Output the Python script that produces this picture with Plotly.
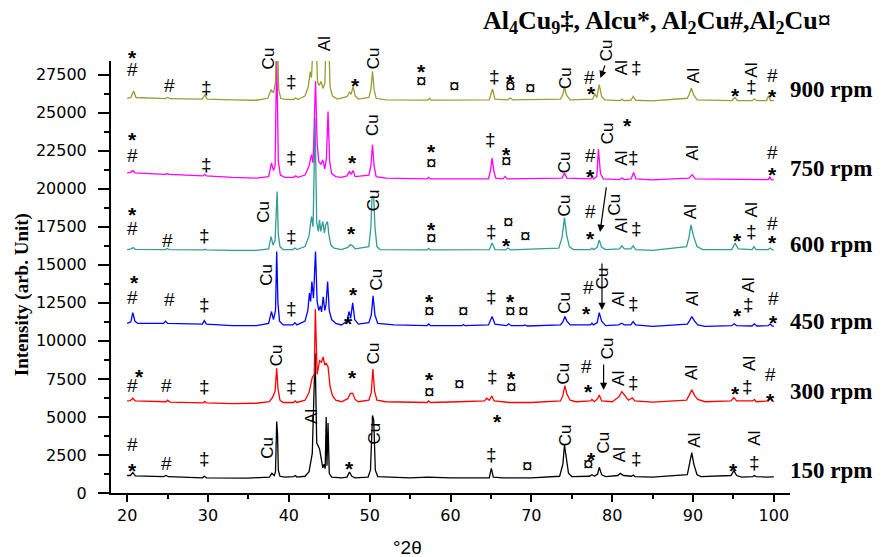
import plotly.graph_objects as go

# ---------------- data (2theta in degrees, intensity in arb. units) ----------------
tt_150 = [20.0, 20.4, 20.7, 21.0, 24.5, 24.8, 25.1, 29.3, 29.55, 29.8, 35.0, 37.6, 37.9, 38.2, 38.35, 38.5, 38.6, 38.7, 38.9,
          39.5, 40.6, 40.8, 41.0, 42.0, 42.5, 42.9, 43.25, 43.45, 43.8, 44.05, 44.2, 44.35, 44.5, 44.62, 44.72, 44.85, 45.0, 45.3,
          46.5, 47.2, 47.5, 47.8, 48.2, 49.8, 50.1, 50.35, 50.5, 50.7, 51.0, 55.0, 57.2, 60.0, 64.8, 65.05, 65.3, 66.5, 70.0,
          73.5, 73.9, 74.1, 74.3, 74.6, 75.0, 77.2, 77.5, 77.8, 78.2, 78.4, 78.7, 79.2, 80.7, 81.0, 81.4, 82.4, 82.6, 82.8,
          85.0, 89.3, 89.6, 89.85, 90.1, 90.5, 91.0, 94.7, 95.05, 95.4, 96.0, 97.4, 97.6, 97.8, 99.0, 100.0]
int_150 = [1150, 1150, 1350, 1130, 1080, 1150, 1070, 1000, 1100, 1000, 980, 1050, 1300, 1150, 1400, 4700, 3900, 1500, 1100,
           1050, 1080, 1150, 1050, 1100, 1400, 2600, 9200, 3300, 2900, 1900, 1650, 1900, 1600, 5000, 1800, 4600, 1300, 1050,
           1000, 1050, 1380, 1100, 1000, 1050, 1500, 5100, 4800, 1500, 1080, 1000, 1050, 1000, 1000, 1620, 1050, 1000, 1000,
           1100, 1900, 3150, 2300, 1300, 1080, 1100, 1200, 1100, 1250, 1690, 1200, 1080, 1150, 1290, 1150, 1100, 1180, 1080,
           1050, 1200, 2000, 2650, 1900, 1200, 1080, 1150, 1470, 1150, 1050, 1080, 1150, 1080, 1050, 1060]

tt_300 = [20.0, 20.4, 20.7, 21.0, 24.8, 25.0, 25.3, 29.4, 29.6, 29.8, 33.0, 36.0, 37.6, 38.0, 38.3, 38.5, 38.65, 38.9, 39.3,
          40.6, 40.8, 41.0, 42.0, 42.5, 42.9, 43.15, 43.28, 43.5, 43.8, 44.05, 44.25, 44.45, 44.6, 44.85, 45.1, 45.4, 45.8,
          46.5, 47.3, 47.6, 47.9, 48.2, 48.6, 49.9, 50.2, 50.4, 50.6, 50.9, 52.0, 57.1, 57.3, 57.5, 61.0, 64.2, 64.5, 64.8,
          65.1, 65.4, 67.3, 70.0, 73.6, 73.9, 74.15, 74.4, 74.8, 75.5, 77.3, 77.5, 77.8, 78.2, 78.4, 78.7, 80.0, 80.8, 81.2,
          81.6, 82.0, 82.5, 82.8, 85.0, 89.2, 89.5, 89.85, 90.2, 90.6, 91.5, 94.7, 95.05, 95.4, 97.4, 97.6, 97.8, 99.3, 99.5,
          99.8, 100.0]
int_300 = [6050, 6080, 6230, 6050, 6000, 6100, 5980, 5920, 6020, 5920, 5880, 5900, 6000, 6300, 6700, 8200, 6900, 6100, 5950,
           5950, 6050, 5950, 6100, 6600, 7600, 7800, 12100, 7800, 8700, 8600, 8950, 8400, 8550, 8300, 7000, 6400, 6100,
           6000, 6200, 6550, 6550, 6150, 6000, 6100, 6600, 8150, 6700, 6100, 6000, 5950, 6050, 5950, 6000, 6050, 6230, 6100,
           6380, 6050, 5950, 5950, 6050, 6400, 7060, 6500, 6100, 6000, 6050, 6150, 6000, 6200, 6450, 6050, 6000, 6300, 6660,
           6350, 6100, 6250, 6050, 5980, 6100, 6400, 6780, 6400, 6150, 6000, 6050, 6270, 6050, 6050, 6150, 6000, 6050, 6300,
           6050, 6000]

tt_450 = [20.0, 20.45, 20.7, 20.95, 21.3, 24.5, 24.75, 25.0, 29.3, 29.55, 29.8, 33.0, 36.0, 37.5, 37.85, 38.1, 38.35, 38.5,
          38.65, 38.85, 39.3, 40.5, 40.75, 41.0, 42.0, 42.35, 42.55, 42.7, 42.85, 43.05, 43.3, 43.5, 43.7, 43.9, 44.05, 44.25,
          44.45, 44.6, 44.8, 45.0, 45.3, 45.8, 46.5, 47.2, 47.45, 47.65, 47.9, 48.15, 48.6, 49.9, 50.2, 50.42, 50.65, 51.0,
          53.0, 57.1, 57.3, 57.5, 61.4, 61.6, 61.8, 64.7, 65.15, 65.5, 66.9, 67.2, 67.5, 69.0, 69.2, 69.5, 73.6, 73.9, 74.15,
          74.4, 74.8, 77.3, 77.5, 77.7, 78.15, 78.4, 78.7, 79.2, 80.8, 81.2, 81.5, 82.3, 82.6, 82.9, 85.0, 89.3, 89.6, 89.85,
          90.2, 90.6, 91.5, 94.8, 95.1, 95.4, 97.3, 97.6, 97.9, 99.3, 99.55, 99.8, 100.0]
int_450 = [11150, 11250, 11860, 11300, 11150, 11150, 11300, 11150, 11100, 11330, 11100, 11000, 11000, 11150, 11930, 11400,
           12000, 15880, 12500, 11300, 11050, 11050, 11200, 11050, 11300, 12000, 13140, 12600, 13900, 12800, 15880, 12600,
           12000, 12300, 11900, 12900, 12000, 12400, 13900, 12000, 11400, 11150, 11050, 11300, 11930, 11500, 12500, 11400,
           11100, 11200, 11700, 12960, 11700, 11150, 11050, 11000, 11120, 11000, 11000, 11080, 11000, 11050, 11600, 11100,
           11000, 11120, 11000, 11000, 11050, 10980, 11050, 11250, 11600, 11300, 11050, 11050, 11160, 11050, 11200, 11860,
           11300, 11000, 11050, 11160, 11050, 11050, 11270, 11050, 10950, 11100, 11350, 11600, 11300, 11050, 10950, 11000,
           11120, 11000, 10980, 11120, 10980, 11000, 11120, 10980, 10950]

tt_600 = [20.0, 20.5, 20.75, 21.0, 24.7, 24.95, 25.2, 29.5, 29.65, 29.8, 33.0, 36.0, 37.5, 37.8, 38.05, 38.3, 38.55, 38.7,
          38.9, 39.3, 40.5, 40.75, 41.0, 42.0, 42.5, 42.8, 43.0, 43.25, 43.45, 43.65, 43.8, 43.95, 44.2, 44.4, 44.55, 44.78,
          44.95, 45.2, 45.6, 46.5, 47.3, 47.6, 47.9, 48.2, 49.9, 50.15, 50.3, 50.5, 50.65, 50.9, 51.3, 57.1, 57.3, 57.5, 64.8,
          65.15, 65.5, 66.8, 67.1, 67.4, 73.4, 73.8, 74.1, 74.35, 74.7, 75.2, 77.3, 77.5, 77.7, 78.15, 78.4, 78.7, 79.2, 80.9,
          81.2, 81.5, 82.3, 82.6, 82.9, 85.0, 89.2, 89.5, 89.75, 90.05, 90.5, 91.2, 94.8, 95.2, 95.6, 97.3, 97.55, 97.8, 99.3,
          99.55, 99.8, 100.0]
int_600 = [16000, 16050, 16140, 16020, 16000, 16080, 16000, 15980, 16030, 15980, 15950, 15950, 16050, 16860, 16300, 16600,
           19820, 17000, 16200, 16000, 16000, 16100, 16000, 16200, 16900, 18180, 17500, 24650, 17800, 17200, 17960, 17200,
           17850, 17100, 17600, 17850, 17000, 16300, 16100, 16000, 16150, 16320, 16250, 16050, 16200, 17500, 19500, 19500,
           17500, 16200, 16000, 15980, 16080, 15980, 16000, 16430, 16000, 15980, 16100, 15980, 16100, 16800, 18100, 17000,
           16200, 16000, 16000, 16100, 16000, 16150, 16640, 16150, 16000, 16050, 16250, 16050, 16050, 16250, 16000, 15950,
           16200, 16800, 17630, 16900, 16200, 16000, 16000, 16430, 16050, 16000, 16200, 16000, 16000, 16100, 15980, 15980]

tt_750 = [20.0, 20.45, 20.7, 20.95, 24.7, 24.95, 25.2, 29.4, 29.6, 29.8, 33.0, 36.0, 37.5, 37.85, 38.1, 38.3, 38.5, 38.7,
          38.95, 39.5, 40.6, 40.85, 41.1, 42.0, 42.5, 42.8, 43.0, 43.3, 43.5, 43.7, 43.95, 44.2, 44.45, 44.65, 44.85, 45.05,
          45.3, 45.8, 46.5, 47.2, 47.5, 47.7, 47.95, 48.2, 49.9, 50.15, 50.35, 50.55, 50.8, 52.0, 57.1, 57.3, 57.5, 64.7,
          64.95, 65.15, 65.35, 65.6, 66.5, 66.75, 67.0, 73.8, 74.1, 74.4, 77.3, 77.5, 77.7, 78.1, 78.3, 78.55, 78.9, 80.9,
          81.2, 81.5, 82.35, 82.65, 82.95, 85.0, 89.5, 89.9, 90.3, 95.0, 97.5, 99.3, 99.5, 99.7, 100.0]
int_750 = [21050, 21080, 21200, 21050, 20950, 21000, 20950, 20850, 20950, 20850, 20750, 20700, 20800, 21700, 21200, 21500,
           29000, 21800, 20900, 20750, 20750, 20850, 20750, 20900, 21500, 22240, 21700, 27060, 23000, 21800, 21600, 21900,
           21300, 22000, 25080, 21800, 21000, 20800, 20750, 20850, 21140, 20950, 21200, 20800, 20900, 21500, 22890, 21500,
           20800, 20700, 20650, 20750, 20650, 20650, 21200, 22020, 21200, 20700, 20650, 20810, 20650, 20700, 21030, 20700,
           20650, 20770, 20650, 20800, 22610, 21000, 20650, 20600, 20700, 20600, 20650, 21070, 20650, 20580, 20700, 20920,
           20650, 20600, 20600, 20600, 20770, 20600, 20580]

tt_900 = [20.0, 20.45, 20.8, 21.1, 24.7, 25.0, 25.3, 29.3, 29.6, 29.9, 33.0, 36.0, 37.4, 37.8, 38.1, 38.35, 38.45, 38.6,
          38.75, 39.0, 39.5, 40.6, 40.85, 41.1, 42.0, 42.4, 42.65, 42.8, 43.0, 43.4, 43.55, 43.75, 44.0, 44.2, 44.45, 44.6,
          44.95, 45.1, 45.4, 46.0, 47.2, 47.5, 47.7, 47.95, 48.2, 48.6, 49.9, 50.15, 50.35, 50.55, 50.8, 52.0, 57.2, 57.4,
          57.6, 61.0, 64.8, 65.2, 65.5, 67.1, 67.4, 67.7, 73.6, 73.9, 74.1, 74.35, 74.8, 77.6, 77.85, 78.1, 78.4, 78.7, 79.1,
          81.0, 81.2, 81.5, 82.3, 82.6, 82.9, 85.0, 89.3, 89.55, 89.8, 90.05, 90.5, 94.8, 95.2, 95.5, 97.3, 97.6, 97.9, 99.1,
          99.35, 99.6, 100.0]
int_900 = [25950, 26000, 26430, 26000, 25930, 26000, 25920, 25900, 26170, 25900, 25850, 25820, 25950, 26510, 26300, 27000,
           29500, 29500, 26500, 25950, 25880, 25870, 25970, 25870, 26100, 26700, 27700, 27300, 29500, 29500, 27000, 26800,
           27060, 26600, 26900, 29500, 29500, 26700, 26100, 25900, 26050, 26350, 26200, 26730, 26100, 25900, 26000, 26500,
           27720, 26500, 25950, 25850, 25830, 25950, 25830, 25830, 25850, 26560, 25900, 25850, 25970, 25850, 25900, 26200,
           26690, 26150, 25850, 25900, 26250, 26000, 26840, 26050, 25850, 25800, 25880, 25800, 25820, 26070, 25820, 25780,
           25950, 26250, 26630, 26200, 25850, 25800, 26000, 25800, 25800, 25900, 25790, 25800, 26120, 25800, 25790]

series_names = ["150 rpm", "300 rpm", "450 rpm", "600 rpm", "750 rpm", "900 rpm"]
series_x = [tt_150, tt_300, tt_450, tt_600, tt_750, tt_900]
series_y = [int_150, int_300, int_450, int_600, int_750, int_900]
series_colors = ["#000000", "#ff0000", "#0000ff", "#2f9c96", "#ff00ff", "#9c9c35"]
label_y_paper = [0.053, 0.234, 0.396, 0.576, 0.752, 0.935]

X_RANGE = [18, 102]
Y_RANGE = [0, 28400]
y_ticks = [0, 2500, 5000, 7500, 10000, 12500, 15000, 17500, 20000, 22500, 25000, 27500]
x_ticks = [20, 30, 40, 50, 60, 70, 80, 90, 100]

# phase / element markers: (text, 2theta, intensity, rotated)
markers = [
    # 900 rpm
    ("*", 20.66, 28930, 0), ("#", 20.66, 27810, 0), ("#", 25.24, 26760, 0), ("‡", 29.83, 26690, 0),
    ("Cu", 37.6, 28600, 1), ("‡", 40.36, 27020, 0), ("Al", 44.45, 29550, 1), ("*", 48.29, 27150, 0),
    ("Cu", 50.43, 28590, 1), ("*", 56.43, 28030, 0), ("¤", 56.43, 27150, 0), ("¤", 60.5, 26800, 0),
    ("‡", 65.5, 27350, 0), ("*", 67.4, 27350, 0), ("¤", 67.4, 26760, 0), ("¤", 69.85, 26690, 0),
    ("Cu", 74.2, 27300, 1), ("#", 77.16, 27290, 0), ("*", 77.5, 26560, 0), ("Cu", 79.4, 29130, 1),
    ("Al", 81.26, 27940, 1), ("‡", 83.07, 27940, 0), ("Al", 90.0, 27400, 1), ("*", 95.2, 26450, 0),
    ("‡", 97.26, 26700, 0), ("Al", 97.26, 27810, 1), ("#", 99.84, 27420, 0), ("*", 99.84, 26370, 0),
    ("*", 81.9, 24460, 0),
    # 750 rpm
    ("*", 20.66, 23540, 0), ("#", 20.66, 22220, 0), ("‡", 29.83, 21570, 0), ("‡", 40.36, 22030, 0),
    ("*", 47.88, 22030, 0), ("Cu", 50.43, 24200, 1), ("*", 57.67, 22750, 0), ("¤", 57.67, 21700, 0),
    ("‡", 64.97, 23210, 0), ("*", 66.96, 22550, 0), ("¤", 66.96, 21890, 0), ("Cu", 74.1, 21780, 1),
    ("#", 77.37, 22220, 0), ("*", 77.37, 21120, 0), ("Cu", 79.36, 23650, 1), ("Al", 81.21, 22030, 1),
    ("‡", 82.65, 22030, 0), ("Al", 89.89, 22330, 1), ("#", 99.8, 22360, 0), ("*", 99.8, 21240, 0),
    # 600 rpm
    ("*", 20.66, 18610, 0), ("#", 20.66, 17400, 0), ("#", 25.0, 16630, 0), ("‡", 29.58, 16960, 0),
    ("Cu", 36.9, 18480, 1), ("‡", 40.36, 16850, 0), ("*", 47.76, 17400, 0), ("Cu", 50.43, 19260, 1),
    ("*", 57.67, 17620, 0), ("¤", 57.67, 16770, 0), ("‡", 65.1, 17160, 0), ("¤", 67.12, 17880, 0),
    ("*", 66.96, 16630, 0), ("¤", 69.23, 16900, 0), ("Cu", 74.1, 18940, 1), ("#", 77.29, 18480, 0),
    ("*", 77.29, 17030, 0), ("Cu", 80.3, 18940, 1), ("Al", 81.21, 17620, 1), ("‡", 83.07, 17420, 0),
    ("Al", 89.68, 18480, 1), ("*", 95.46, 16900, 0), ("‡", 97.24, 17160, 0), ("Al", 97.24, 18610, 1),
    ("#", 99.8, 17750, 0), ("*", 99.8, 16770, 0),
    # 450 rpm
    ("*", 20.9, 14140, 0), ("#", 20.66, 12820, 0), ("#", 25.24, 12690, 0), ("‡", 29.58, 12360, 0),
    ("Cu", 37.14, 14330, 1), ("‡", 40.36, 12160, 0), ("*", 47.96, 13350, 0), ("*", 47.34, 11440, 0),
    ("Cu", 50.85, 14000, 1), ("*", 57.34, 12890, 0), ("¤", 57.34, 11970, 0), ("¤", 61.59, 11970, 0),
    ("‡", 65.1, 12890, 0), ("*", 67.37, 12950, 0), ("¤", 67.37, 11970, 0), ("¤", 69.02, 11970, 0),
    ("Cu", 74.0, 12490, 1), ("#", 77.08, 13480, 0), ("*", 76.88, 12100, 0), ("Cu", 78.9, 14140, 1),
    ("Al", 80.8, 12760, 1), ("‡", 82.65, 12490, 0), ("Al", 90.01, 12760, 1), ("*", 95.46, 12030, 0),
    ("‡", 96.9, 12360, 0), ("Al", 96.9, 13680, 1), ("#", 99.92, 12800, 0), ("*", 99.92, 11550, 0),
    # 300 rpm
    ("#", 20.66, 7100, 0), ("*", 21.5, 7960, 0), ("#", 24.87, 7100, 0), ("‡", 29.58, 6970, 0),
    ("Cu", 38.5, 9030, 1), ("‡", 40.36, 6970, 0), ("*", 47.88, 7890, 0), ("Cu", 50.43, 9190, 1),
    ("*", 57.34, 7760, 0), ("¤", 57.34, 6660, 0), ("¤", 61.09, 7230, 0), ("‡", 65.23, 7650, 0),
    ("*", 67.58, 7830, 0), ("¤", 67.58, 6970, 0), ("*", 65.76, 5060, 0), ("Cu", 74.1, 7890, 1),
    ("#", 76.88, 8300, 0), ("*", 77.08, 6990, 0), ("Cu", 79.36, 9510, 1), ("Al", 80.8, 7540, 1),
    ("‡", 82.65, 7260, 0), ("Al", 89.89, 7890, 1), ("*", 95.25, 6900, 0), ("‡", 96.7, 6990, 0),
    ("Al", 96.9, 8530, 1), ("#", 99.59, 7760, 0), ("*", 99.59, 6440, 0),
    # 150 rpm
    ("#", 20.66, 3160, 0), ("*", 20.66, 1780, 0), ("#", 24.87, 1970, 0), ("‡", 29.58, 2280, 0),
    ("Cu", 37.39, 2960, 1), ("Al", 42.8, 5020, 1), ("*", 47.55, 1970, 0), ("Cu", 50.56, 3920, 1),
    ("‡", 65.1, 2500, 0), ("¤", 69.52, 1780, 0), ("Cu", 74.19, 3810, 1), ("¤", 77.08, 1970, 0),
    ("*", 77.5, 2500, 0), ("Cu", 78.94, 3290, 1), ("Al", 81.0, 2500, 1), ("‡", 83.07, 2280, 0),
    ("Al", 90.09, 3480, 1), ("*", 95.04, 1840, 0), ("‡", 97.61, 1990, 0), ("Al", 97.61, 3600, 1),
]

# arrows: (tail 2theta, tail intensity, head 2theta, head intensity)
arrows = [
    (79.17, 28200, 78.55, 27280),
    (79.3, 20190, 78.5, 17160),
    (78.74, 15190, 78.74, 12030),
    (78.94, 8550, 78.94, 6770),
]

# ---------------- figure ----------------
fig = go.Figure()
for name, xs, ys, col in zip(series_names, series_x, series_y, series_colors):
    fig.add_trace(go.Scatter(x=xs, y=ys, mode="lines", name=name,
                             line=dict(color=col, width=1.3), showlegend=False))

annotations = []
for txt, xv, yv, rot in markers:
    # y given as a fraction of the y range so labels above the frame stay visible
    yp = (yv - Y_RANGE[0]) / (Y_RANGE[1] - Y_RANGE[0])
    common = dict(x=xv, y=yp, xref="x", yref="paper", xanchor="center", yanchor="middle", showarrow=False)
    if rot:
        annotations.append(dict(text=txt, textangle=-90,
                                font=dict(family="Liberation Sans", size=17, color="black"), **common))
    else:
        star = txt == "*"
        annotations.append(dict(text=("<b>*</b>" if star else txt), yshift=(-5 if star else 0),
                                font=dict(family="Liberation Sans", size=(21 if star else 19), color="black"),
                                **common))

for tx, ty, hx, hy in arrows:
    annotations.append(dict(x=hx, y=hy, ax=tx, ay=ty, xref="x", yref="y", axref="x", ayref="y",
                            text="", showarrow=True, arrowhead=2, arrowsize=1.2, arrowwidth=1.2,
                            arrowcolor="black"))

for name, yp in zip(series_names, label_y_paper):
    annotations.append(dict(x=0.997, y=yp, xref="paper", yref="paper", xanchor="left", yanchor="middle",
                            text="<b>%s</b>" % name, showarrow=False,
                            font=dict(family="Liberation Serif", size=23, color="black")))

annotations.append(dict(x=0.804, y=1.09, xref="paper", yref="paper", xanchor="center", yanchor="middle",
                        text="<b>Al<sub>4</sub>Cu<sub>9</sub>‡, Alcu*, Al<sub>2</sub>Cu#,Al<sub>2</sub>Cu¤</b>",
                        showarrow=False, font=dict(family="Liberation Serif", size=26, color="black")))
annotations.append(dict(x=0.437, y=-0.125, xref="paper", yref="paper", xanchor="center", yanchor="middle",
                        text="°2θ", showarrow=False,
                        font=dict(family="Liberation Sans", size=19, color="black")))
annotations.append(dict(x=-0.131, y=0.458, xref="paper", yref="paper", xanchor="center", yanchor="middle",
                        text="<b>Intensity (arb. Unit)</b>", textangle=-90, showarrow=False,
                        font=dict(family="Liberation Serif", size=19, color="black")))

fig.update_layout(
    width=881, height=557,
    margin=dict(l=103, r=99, t=53, b=72),
    paper_bgcolor="white", plot_bgcolor="white",
    annotations=annotations,
    xaxis=dict(range=X_RANGE, tickvals=x_ticks, ticks="outside", ticklen=7, tickwidth=2,
               tickcolor="black", showline=True, linecolor="black", linewidth=2, showgrid=False,
               zeroline=False,
               tickfont=dict(family="DejaVu Sans", size=16, color="black"),
               minor=dict(dtick=5, tick0=0, ticks="outside", ticklen=4, tickwidth=2, tickcolor="black",
                          showgrid=False)),
    yaxis=dict(range=Y_RANGE, tickvals=y_ticks, tickformat="d", ticks="outside", ticklen=11,
               tickwidth=2, tickcolor="black", showline=True, linecolor="black", linewidth=2,
               showgrid=False, zeroline=False, ticklabelstandoff=8,
               tickfont=dict(family="DejaVu Sans", size=16, color="black"),
               minor=dict(dtick=1250, tick0=0, ticks="outside", ticklen=5, tickwidth=2, tickcolor="black",
                          showgrid=False)),
)

fig.write_html("out.html")
